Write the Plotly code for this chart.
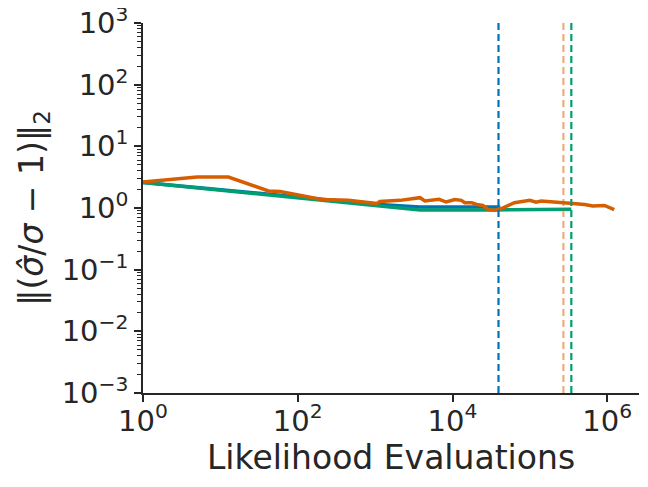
import plotly.graph_objects as go

# line data
blue_x = [1, 10, 100, 1000, 3800, 39300, 39300]
blue_y = [2.6, 1.97, 1.5, 1.15, 1.04, 1.04, 0.93]

green_x = [1, 10, 100, 1000, 3800, 30000, 343000]
green_y = [2.6, 1.95, 1.46, 1.10, 0.93, 0.93, 0.95]

orange_x = [1, 5, 12.7, 41.8, 59, 97, 204, 450, 1050, 1150, 2100, 3800, 4400, 6700, 8300,
            10700, 13000, 14400, 17700, 20400, 24700, 28900, 35000, 43000, 49700, 63000,
            100000, 120000, 140000, 242000, 360000, 510000, 650000, 920000, 1230000]
orange_y = [2.64, 3.18, 3.18, 1.89, 1.85, 1.65, 1.37, 1.33, 1.18, 1.28, 1.33, 1.47, 1.30,
            1.38, 1.25, 1.37, 1.33, 1.22, 1.22, 1.14, 1.10, 0.94, 0.92, 0.98, 1.08, 1.22,
            1.33, 1.24, 1.30, 1.25, 1.18, 1.14, 1.08, 1.10, 0.94]

# vertical markers: x position and colour
vline_x = [39300, 271000, 343000]
vline_colors = ['#0173b2', 'rgba(213,94,0,0.5)', '#029e73']

ytick_exp = [-3, -2, -1, 0, 1, 2, 3]
xtick_exp = [0, 2, 4, 6]


def sup(p):
    return '10<sup>' + (str(p) if p >= 0 else '\u2212' + str(-p)) + '</sup>'


ink = '#262626'

fig = go.Figure()

fig.add_trace(go.Scatter(x=blue_x, y=blue_y, mode='lines', line=dict(color='#0173b2', width=3.5)))
fig.add_trace(go.Scatter(x=green_x, y=green_y, mode='lines', line=dict(color='#029e73', width=3.5)))
fig.add_trace(go.Scatter(x=orange_x, y=orange_y, mode='lines', line=dict(color='#d55e00', width=3.5)))

for vx, vc in zip(vline_x, vline_colors):
    fig.add_shape(type='line', x0=vx, x1=vx, y0=0, y1=1, xref='x', yref='paper',
                  line=dict(color=vc, width=2.2, dash='7px,4px'))

minor_y = [m * 10 ** e for e in range(-3, 3) for m in range(2, 10)]

# page body adds an 8px offset, so the figure is 8px smaller and margins shifted
fig.update_layout(
    width=640, height=479,
    margin=dict(l=135, r=9, t=15, b=94),
    plot_bgcolor='white', paper_bgcolor='white',
    showlegend=False,
    font=dict(family='DejaVu Sans', color=ink, size=29),
    xaxis=dict(
        type='log', range=[0, 6.41], automargin=False,
        tickvals=[10 ** p for p in xtick_exp], ticktext=[sup(p) for p in xtick_exp],
        ticks='outside', ticklen=7, tickwidth=1.5, tickcolor=ink, ticklabelstandoff=-6,
        ticklabeloverflow='allow',
        showline=True, linecolor=ink, linewidth=1.5, showgrid=False, zeroline=False,
        title=dict(text='Likelihood Evaluations', font=dict(size=33), standoff=1),
    ),
    yaxis=dict(
        type='log', range=[-3, 3], automargin=False,
        tickvals=[10 ** p for p in ytick_exp], ticktext=[sup(p) for p in ytick_exp],
        ticks='outside', ticklen=7, tickwidth=1.5, tickcolor=ink,
        ticklabeloverflow='allow',
        minor=dict(tickvals=minor_y, ticks='outside', ticklen=4, tickwidth=1, tickcolor=ink, showgrid=False),
        showline=True, linecolor=ink, linewidth=1.5, showgrid=False, zeroline=False,
        title=dict(text='\u2016(<i>\u03c3\u0302</i>/<i>\u03c3</i> \u2212 1)\u2016<sub>2</sub>',
                   font=dict(size=33), standoff=8),
    ),
)

fig.write_html('out.html')
